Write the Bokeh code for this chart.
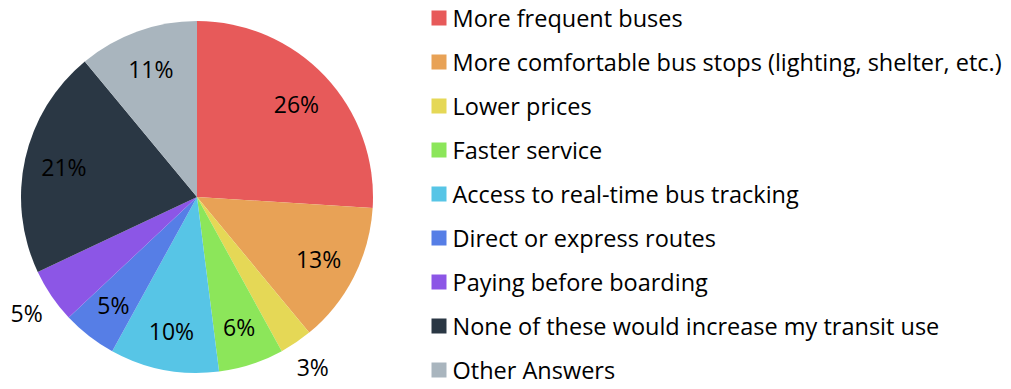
import numpy as np
from bokeh.plotting import figure
from bokeh.models import Range1d, ColumnDataSource
from bokeh.core.properties import value
from bokeh.embed import file_html
from bokeh.resources import INLINE

categories = ["More frequent buses",
              "More comfortable bus stops (lighting, shelter, etc.)",
              "Lower prices",
              "Faster service",
              "Access to real-time bus tracking",
              "Direct or express routes",
              "Paying before boarding",
              "None of these would increase my transit use",
              "Other Answers"]
percent = [26, 13, 3, 6, 10, 5, 5, 21, 11]
colors = ["#E75A5A", "#E8A256", "#E5D856", "#8CE65A", "#57C5E6",
          "#567EE6", "#8C56E6", "#2A3744", "#A9B5BE"]
label_outside = [False, False, True, False, False, False, True, False, False]

W, H = 1011, 389
FONT = "Open Sans"
p = figure(width=W, height=H, output_backend="svg", toolbar_location=None,
           x_range=Range1d(0, W), y_range=Range1d(389 - H, 389),
           min_border=0)
p.axis.visible = False
p.grid.visible = False
p.outline_line_color = None
p.background_fill_color = "white"

cx, cy, R = 196.5, 389 - 196.5, 176
vals = np.array(percent, dtype=float)
frac = vals / vals.sum()
cum = np.concatenate([[0], np.cumsum(frac)])
start = np.pi / 2 - 2 * np.pi * cum[:-1]
end = np.pi / 2 - 2 * np.pi * cum[1:]
mid = (start + end) / 2

src = ColumnDataSource(dict(start=start, end=end, color=colors))
p.wedge(x=cx, y=cy, radius=R, start_angle="start", end_angle="end",
        direction="clock", fill_color="color", line_color=None, source=src)

lr = np.where(label_outside, R * 1.17, R * 0.775)
lab = ColumnDataSource(dict(x=cx + lr * np.cos(mid), y=cy + lr * np.sin(mid),
                            t=[f"{v}%" for v in percent]))
p.text(x="x", y="y", text="t", source=lab, text_align="center",
       text_baseline="middle", text_font=value(FONT), text_font_size="23px",
       text_color="#000000")

n = len(categories)
ly = 389 - (17.5 + 44.0 * np.arange(n))
leg = ColumnDataSource(dict(x=[438.5] * n, tx=[452] * n, y=ly, c=colors, t=categories))
p.rect(x="x", y="y", width=15, height=15, fill_color="c", line_color=None, source=leg)
p.text(x="tx", y="y", text="t", source=leg, text_align="left", text_baseline="middle",
       text_font=value(FONT), text_font_size="23.5px", text_color="#000000")

open("out.html", "w").write(file_html(p, INLINE))
